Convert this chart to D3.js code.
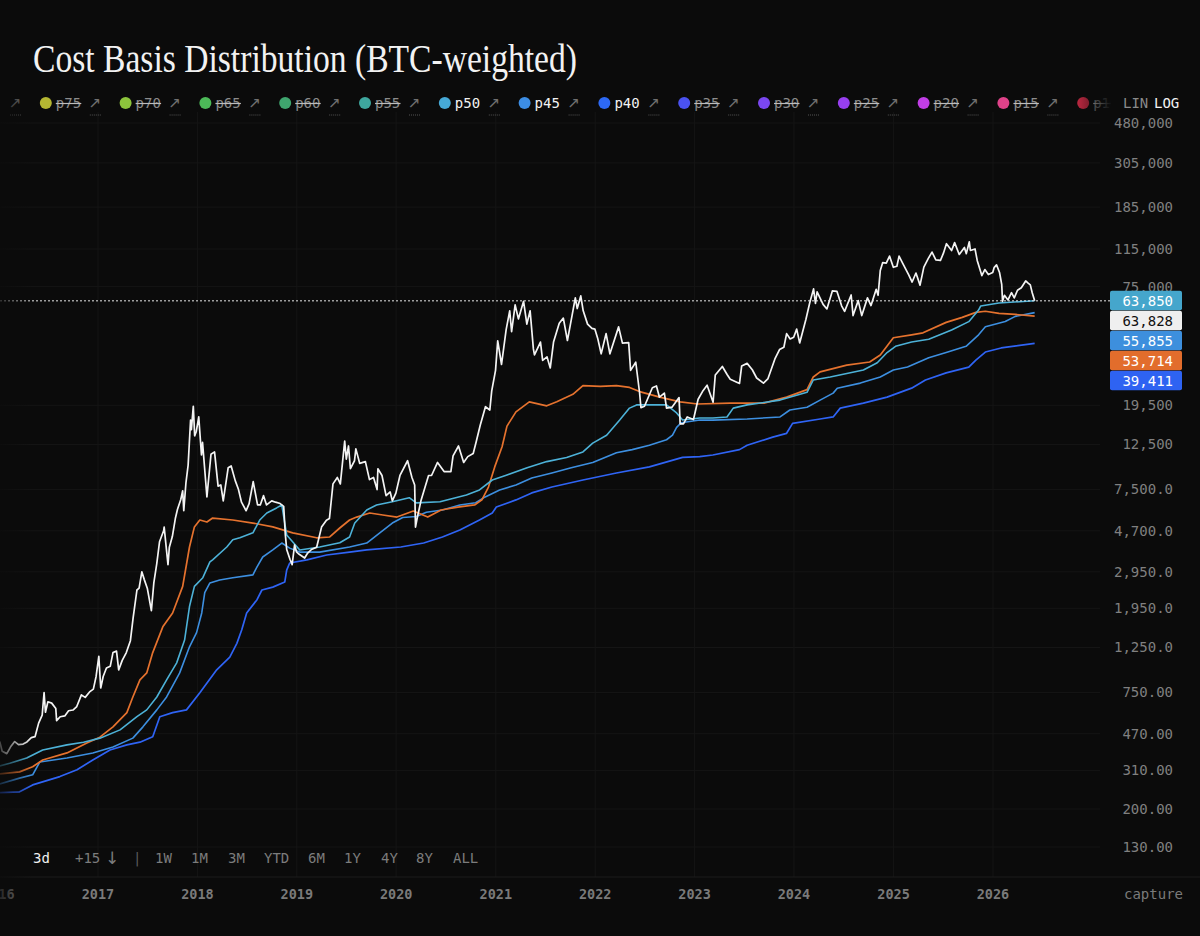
<!DOCTYPE html>
<html><head><meta charset="utf-8">
<script src="https://cdn.jsdelivr.net/npm/d3@7"></script>
<style>
html,body{margin:0;padding:0;background:#0b0b0b;}
svg{display:block;}
</style>
</head><body>
<svg id="chart" width="1200" height="936"></svg>
<script>
// ---------------- DATA ----------------
const chartTitle = "Cost Basis Distribution (BTC-weighted)";

const legendLabels = ["p80","p75","p70","p65","p60","p55","p50","p45","p40","p35","p30","p25","p20","p15","p10"];
const legendColors = ["#c9b02c","#b4b632","#8cc43c","#4cba58","#3fa56e","#3ea79e","#46a9d6","#3c8de4","#2d69f4","#4a52f0","#7a47f0","#983ff0","#c13ee6","#df4289","#b8273f"];
const legendActive = [false,false,false,false,false,false,true,true,true,false,false,false,false,false,false];

const yTickValues = [480000,305000,185000,115000,75000,19500,12500,7500,4700,2950,1950,1250,750,470,310,200,130];
const rangeButtons = ["1W","1M","3M","YTD","6M","1Y","4Y","8Y","ALL"];

const price = [
["2016-01-06",430],["2016-01-15",385],["2016-02-01",375],["2016-02-15",405],["2016-03-01",430],["2016-03-15",415],
["2016-04-01",418],["2016-04-15",428],["2016-05-01",450],["2016-05-15",455],["2016-05-28",530],["2016-06-10",580],
["2016-06-17",750],["2016-06-22",600],["2016-07-01",675],["2016-07-15",665],["2016-07-30",625],["2016-08-02",545],
["2016-08-15",570],["2016-09-01",575],["2016-09-15",610],["2016-10-01",615],["2016-10-15",640],["2016-11-01",730],
["2016-11-15",710],["2016-12-01",755],["2016-12-15",780],["2016-12-25",900],
["2017-01-04",1130],["2017-01-11",790],["2017-01-20",900],["2017-02-01",990],["2017-02-15",1010],["2017-02-25",1180],
["2017-03-10",1200],["2017-03-18",970],["2017-03-31",1080],["2017-04-15",1180],["2017-04-30",1350],["2017-05-10",1750],
["2017-05-24",2400],["2017-06-01",2450],["2017-06-11",2950],["2017-06-20",2700],["2017-07-01",2450],["2017-07-16",1900],
["2017-07-25",2600],["2017-08-05",3250],["2017-08-15",4150],["2017-08-30",4700],["2017-09-01",4900],["2017-09-15",3200],
["2017-09-20",3900],["2017-10-01",4400],["2017-10-12",5400],["2017-10-20",6000],["2017-11-01",6700],["2017-11-08",7400],
["2017-11-12",5900],["2017-11-20",8100],["2017-11-28",9900],["2017-12-07",16500],["2017-12-10",14800],["2017-12-17",19300],
["2017-12-22",13800],["2017-12-28",14500],
["2018-01-06",17100],["2018-01-16",11100],["2018-01-20",12800],["2018-02-05",6900],["2018-02-20",11200],["2018-03-05",11500],
["2018-03-18",7800],["2018-03-28",7900],["2018-04-06",6600],["2018-04-24",9600],["2018-05-05",9800],["2018-05-20",8300],
["2018-06-01",7500],["2018-06-12",6500],["2018-06-29",5900],["2018-07-10",6400],["2018-07-25",8200],["2018-08-10",6300],
["2018-08-20",6300],["2018-09-01",7000],["2018-09-12",6300],["2018-10-01",6600],["2018-10-15",6500],["2018-11-01",6400],
["2018-11-14",6200],["2018-11-20",4500],["2018-11-25",3800],["2018-12-07",3400],["2018-12-15",3200],["2018-12-24",4000],
["2018-12-31",3700],
["2019-01-10",3600],["2019-01-30",3450],["2019-02-10",3650],["2019-02-24",3800],["2019-03-15",3900],["2019-04-02",4900],
["2019-04-20",5300],["2019-05-01",5400],["2019-05-14",8000],["2019-05-30",8600],["2019-06-10",8000],["2019-06-26",13000],
["2019-07-02",10600],["2019-07-10",12300],["2019-07-17",9500],["2019-08-01",10400],["2019-08-06",11900],["2019-08-20",10100],
["2019-09-10",10300],["2019-09-25",8400],["2019-10-10",8600],["2019-10-23",7500],["2019-10-26",9500],["2019-11-10",8800],
["2019-11-25",7000],["2019-12-10",7300],["2019-12-18",6600],["2019-12-31",7200],
["2020-01-15",8800],["2020-02-12",10400],["2020-02-28",8600],["2020-03-09",7900],["2020-03-12",4900],["2020-03-18",5400],
["2020-04-01",6600],["2020-04-29",8800],["2020-05-10",8800],["2020-06-01",10200],["2020-06-25",9200],["2020-07-20",9200],
["2020-07-28",11000],["2020-08-17",12300],["2020-09-05",10200],["2020-09-20",10900],["2020-10-10",11300],["2020-10-21",12900],
["2020-11-05",15600],["2020-11-24",19200],["2020-12-10",18500],["2020-12-17",23000],["2020-12-31",29000],
["2021-01-08",40500],["2021-01-22",31000],["2021-02-08",46000],["2021-02-21",57000],["2021-02-28",45000],["2021-03-13",61000],
["2021-03-25",52000],["2021-04-13",63500],["2021-04-25",49000],["2021-05-07",57000],["2021-05-19",37000],["2021-05-23",34600],
["2021-06-14",40000],["2021-06-22",32500],["2021-07-08",33800],["2021-07-20",29800],["2021-08-01",40000],["2021-08-22",49500],
["2021-09-06",52500],["2021-09-21",40700],["2021-10-01",48000],["2021-10-20",66000],["2021-10-27",58500],["2021-11-09",67500],
["2021-11-18",57000],["2021-12-04",49000],["2021-12-20",46700],["2021-12-31",46300],
["2022-01-10",41800],["2022-01-23",35000],["2022-02-10",44000],["2022-02-24",35000],["2022-03-28",47500],["2022-04-11",39500],
["2022-05-04",39700],["2022-05-11",29000],["2022-05-30",31800],["2022-06-13",22500],["2022-06-18",19000],["2022-07-01",19300],
["2022-07-30",23800],["2022-08-14",24300],["2022-08-25",21400],["2022-09-12",22400],["2022-09-20",18900],["2022-10-10",19100],
["2022-11-05",21300],["2022-11-09",15800],["2022-11-21",15800],["2022-12-05",17100],["2022-12-28",16600],
["2023-01-14",20900],["2023-01-30",22800],["2023-02-16",24500],["2023-03-10",20200],["2023-03-18",27500],["2023-04-13",30300],
["2023-05-01",27600],["2023-05-12",26200],["2023-06-15",25000],["2023-06-23",30500],["2023-07-13",31400],["2023-08-01",29200],
["2023-08-17",26600],["2023-09-11",25100],["2023-09-27",26300],["2023-10-23",33000],["2023-11-09",36700],["2023-11-25",37700],
["2023-12-05",44000],["2023-12-18",41400],["2023-12-31",42200],
["2024-01-11",46300],["2024-01-22",39600],["2024-02-14",51800],["2024-02-28",62500],["2024-03-13",73100],["2024-03-20",62000],
["2024-03-26",70600],["2024-04-17",61300],["2024-05-01",58200],["2024-05-21",71400],["2024-06-07",71000],["2024-06-24",60300],
["2024-07-05",56600],["2024-07-29",68200],["2024-08-05",54000],["2024-08-24",64000],["2024-09-06",54000],["2024-09-27",66000],
["2024-10-10",60500],["2024-10-29",72700],["2024-11-05",68000],["2024-11-13",90000],["2024-11-22",98500],["2024-12-05",98000],
["2024-12-17",106000],["2024-12-31",93400],
["2025-01-13",94500],["2025-01-21",106000],["2025-02-03",98000],["2025-02-25",86000],["2025-03-10",79000],["2025-03-24",87500],
["2025-04-08",76300],["2025-04-22",93500],["2025-05-08",103000],["2025-05-22",111000],["2025-06-05",101500],["2025-06-22",101000],
["2025-07-03",109600],["2025-07-14",122000],["2025-08-02",113000],["2025-08-13",123500],["2025-08-30",108000],["2025-09-18",117000],
["2025-09-25",109000],["2025-10-06",124700],["2025-10-10",113000],["2025-10-27",115000],["2025-11-04",101000],["2025-11-21",85000],
["2025-12-02",91000],["2025-12-15",86000],["2025-12-31",88000],
["2026-01-05",93000],["2026-01-14",96000],["2026-01-25",88000],["2026-02-02",77000],["2026-02-05",63500],["2026-02-12",68000],
["2026-02-25",64500],["2026-03-10",70000],["2026-03-20",66000],["2026-04-01",72000],["2026-04-15",74000],["2026-05-01",80000],
["2026-05-10",78000],["2026-05-18",76500],["2026-05-25",70000],["2026-06-03",63828]
];

const p50 = [
["2016-01-06",326],["2016-02-12",336],["2016-04-14",357],["2016-06-12",391],["2016-09-09",414],["2016-11-09",427],
["2017-01-08",447],["2017-03-23",491],["2017-05-24",570],["2017-06-29",616],["2017-08-05",713],["2017-09-10",866],
["2017-10-17",1050],["2017-11-15",1360],["2017-12-03",1990],["2017-12-21",2500],["2018-01-21",2760],["2018-02-16",3300],
["2018-02-26",3380],["2018-04-19",3910],["2018-05-11",4240],["2018-06-06",4340],["2018-07-24",4590],["2018-08-18",5310],
["2018-09-13",5750],["2018-10-19",6090],["2018-11-07",6300],["2018-11-25",4480],["2019-01-12",3780],["2019-03-26",3910],
["2019-06-08",4100],["2019-07-14",4380],["2019-08-02",5130],["2019-09-15",5950],["2019-10-21",6300],["2019-12-18",6530],
["2020-02-18",6840],["2020-03-15",6450],["2020-06-10",6530],["2020-09-15",7060],["2020-11-02",7470],["2020-12-19",8360],
["2021-02-11",8850],["2021-04-26",9600],["2021-07-07",10300],["2021-09-18",10800],["2021-11-17",11500],["2021-12-23",12700],
["2022-02-12",13900],["2022-04-01",16500],["2022-05-07",18900],["2022-06-02",19600],["2022-09-20",19600],["2022-10-27",17900],
["2022-11-18",16500],["2023-01-20",16900],["2023-03-09",16900],["2023-04-30",17100],["2023-05-23",18900],["2023-07-13",19600],
["2023-11-11",20700],["2024-02-18",22600],["2024-03-12",26000],["2024-05-13",26900],["2024-09-12",29100],["2024-11-02",31600],
["2024-12-08",35500],["2025-01-08",38100],["2025-03-08",40000],["2025-05-10",41300],["2025-08-02",45800],["2025-10-04",50400],
["2025-11-09",57500],["2025-11-17",60200],["2026-01-23",62300],["2026-06-03",63850]
];

const p45 = [
["2016-01-06",266],["2016-03-19",284],["2016-05-06",295],["2016-06-01",341],["2016-09-09",357],["2016-12-13",378],
["2017-02-25",404],["2017-05-09",447],["2017-06-15",508],["2017-08-05",616],["2017-09-10",713],["2017-10-28",937],
["2017-12-03",1260],["2017-12-29",1480],["2018-01-17",1850],["2018-01-28",2330],["2018-02-16",2600],["2018-03-24",2690],
["2018-05-11",2760],["2018-07-24",2850],["2018-08-08",3120],["2018-08-29",3490],["2018-10-05",3780],["2018-11-07",4090],
["2018-12-06",3860],["2019-01-12",3690],["2019-03-26",3690],["2019-07-14",3910],["2019-09-15",4090],["2019-11-02",4590],
["2019-12-18",5130],["2020-01-25",5460],["2020-03-15",5530],["2020-04-21",5800],["2020-06-19",5950],["2020-08-22",6300],
["2020-10-19",6460],["2020-11-23",6900],["2021-01-15",7470],["2021-03-16",7900],["2021-05-13",8550],["2021-07-26",9050],
["2021-10-05",9600],["2021-12-23",10200],["2022-03-20",11400],["2022-05-17",11800],["2022-07-19",12400],["2022-09-20",13200],
["2022-10-12",13900],["2022-10-27",15200],["2022-11-13",16000],["2023-01-20",16500],["2023-03-09",16500],["2023-07-13",16700],
["2023-11-11",17100],["2023-12-17",18500],["2024-02-18",19100],["2024-04-06",20700],["2024-05-24",22400],["2024-06-08",23700],
["2024-09-01",25100],["2024-11-13",26900],["2024-12-31",29100],["2025-02-21",30100],["2025-05-10",33500],["2025-07-13",35500],
["2025-09-24",38100],["2025-11-09",43400],["2025-12-04",47600],["2026-02-15",50500],["2026-03-24",53500],["2026-06-03",55855]
];

const p40 = [
["2016-01-06",241],["2016-03-19",243],["2016-05-06",263],["2016-08-14",289],["2016-10-16",312],["2016-12-13",349],
["2017-02-14",391],["2017-04-17",414],["2017-06-04",427],["2017-07-21",454],["2017-08-16",570],["2017-10-02",597],
["2017-11-22",616],["2018-01-10",748],["2018-03-13",970],["2018-04-30",1120],["2018-05-26",1310],["2018-06-13",1530],
["2018-07-01",1850],["2018-08-08",2150],["2018-08-26",2400],["2018-10-05",2480],["2018-11-18",2630],["2018-11-25",3010],
["2018-12-06",3260],["2019-02-07",3380],["2019-04-21",3570],["2019-07-14",3690],["2019-09-15",3780],["2020-01-18",3910],
["2020-04-11",4090],["2020-06-19",4380],["2020-08-22",4740],["2020-11-02",5310],["2020-12-19",5750],["2021-01-03",6150],
["2021-03-16",6670],["2021-05-13",7220],["2021-07-26",7720],["2021-11-17",8360],["2022-03-20",9050],["2022-07-19",9700],
["2022-11-18",10800],["2023-01-20",10900],["2023-03-09",11100],["2023-06-15",11800],["2023-07-13",12400],["2023-10-15",13600],
["2023-12-05",14200],["2023-12-27",15900],["2024-04-06",16700],["2024-05-24",17100],["2024-06-19",18900],["2024-09-12",20000],
["2024-12-08",21400],["2025-03-08",23700],["2025-04-28",26000],["2025-07-13",28200],["2025-10-04",30100],["2025-10-30",32600],
["2025-12-04",35700],["2026-01-31",37400],["2026-06-03",39411]
];

const average = [
["2016-01-06",298],["2016-03-19",305],["2016-05-06",323],["2016-06-12",349],["2016-09-09",378],["2016-11-21",423],
["2017-01-08",452],["2017-02-25",508],["2017-04-17",597],["2017-05-09",713],["2017-06-04",866],["2017-06-29",937],
["2017-07-21",1180],["2017-08-27",1580],["2017-10-02",1850],["2017-11-08",2500],["2017-12-03",3910],["2017-12-21",4910],
["2018-01-10",5310],["2018-02-05",5190],["2018-02-26",5430],["2018-05-11",5310],["2018-07-24",5130],["2018-10-05",4910],
["2018-12-17",4590],["2019-03-15",4340],["2019-05-02",4380],["2019-06-08",4850],["2019-07-14",5310],["2019-08-09",5490],
["2019-09-26",5750],["2019-11-13",5620],["2020-01-04",5490],["2020-03-04",5880],["2020-04-26",5490],["2020-06-14",5950],
["2020-08-15",6150],["2020-10-15",6300],["2020-11-11",6670],["2020-12-05",7720],["2020-12-28",9700],["2021-01-24",12200],
["2021-02-11",15400],["2021-03-16",18100],["2021-05-04",20300],["2021-07-07",19400],["2021-08-13",20300],["2021-10-11",22100],
["2021-11-17",24400],["2022-01-20",24200],["2022-03-20",24400],["2022-05-07",23900],["2022-06-13",22800],["2022-08-26",21400],
["2022-11-09",20300],["2023-01-12",19800],["2023-05-13",20000],["2023-09-13",20000],["2023-12-05",21400],["2024-02-18",23300],
["2024-03-12",26900],["2024-04-06",28500],["2024-07-13",30800],["2024-10-05",31900],["2024-11-13",34500],["2024-12-31",42000],
["2025-03-08",43400],["2025-04-19",44400],["2025-07-13",50000],["2025-09-10",52900],["2025-10-30",56000],["2025-12-04",56700],
["2026-01-23",55400],["2026-03-24",54700],["2026-06-03",53714]
];

// ---------------- RENDER ----------------
const BG = "#0b0b0b";
const MONO = "'DejaVu Sans Mono','Liberation Mono',monospace";
const svg = d3.select("#chart");
svg.append("rect").attr("width",1200).attr("height",936).attr("fill",BG);

const parse = d3.utcParse("%Y-%m-%d");
const x = d3.scaleUtc().domain([new Date(Date.UTC(2017,0,1)), new Date(Date.UTC(2026,0,1))]).range([98, 993]);
const y = d3.scaleLog().domain([480000, 130]).range([123, 847]);

const plotTop = 112, plotBottom = 877, plotRight = 1100;

// defs
const defs = svg.append("defs");
const gL = defs.append("linearGradient").attr("id","fadeL").attr("x1",0).attr("x2",1).attr("y1",0).attr("y2",0);
gL.append("stop").attr("offset",0).attr("stop-color",BG).attr("stop-opacity",0.75);
gL.append("stop").attr("offset",1).attr("stop-color",BG).attr("stop-opacity",0);
const gR = defs.append("linearGradient").attr("id","fadeR").attr("x1",0).attr("x2",1).attr("y1",0).attr("y2",0);
gR.append("stop").attr("offset",0).attr("stop-color",BG).attr("stop-opacity",0);
gR.append("stop").attr("offset",1).attr("stop-color",BG).attr("stop-opacity",1);
defs.append("clipPath").attr("id","plotClip").append("rect")
  .attr("x",0).attr("y",plotTop).attr("width",plotRight).attr("height",plotBottom-plotTop);
defs.append("clipPath").attr("id","legClip").append("rect")
  .attr("x",0).attr("y",85).attr("width",1111).attr("height",35);

// grid
const grid = svg.append("g");
grid.selectAll("line.h").data(yTickValues).join("line")
  .attr("x1",0).attr("x2",plotRight).attr("y1",d=>y(d)).attr("y2",d=>y(d))
  .attr("stroke","#151515").attr("stroke-width",1);
const years = x.ticks(d3.utcYear.every(1)).concat([new Date(Date.UTC(2016,0,1))]);
grid.selectAll("line.v").data(years).join("line")
  .attr("x1",d=>x(d)).attr("x2",d=>x(d)).attr("y1",plotTop).attr("y2",plotBottom)
  .attr("stroke","#151515").attr("stroke-width",1);
svg.append("line").attr("x1",0).attr("x2",1200).attr("y1",plotBottom).attr("y2",plotBottom)
  .attr("stroke","#1c1c1c");

// lines
const line = d3.line().x(d=>x(parse(d[0]))).y(d=>y(d[1]));
const lines = svg.append("g").attr("clip-path","url(#plotClip)");
const series = [
  {data:p40, color:"#2f64f5", w:1.7},
  {data:p45, color:"#3d8fe0", w:1.6},
  {data:average, color:"#e5722e", w:1.7},
  {data:p50, color:"#4db2d8", w:1.6},
  {data:price, color:"#f4f4f4", w:1.7}
];
lines.selectAll("path").data(series).join("path")
  .attr("d",s=>line(s.data)).attr("fill","none")
  .attr("stroke",s=>s.color).attr("stroke-width",s=>s.w)
  .attr("stroke-linejoin","round");

// price dotted line
const lastPrice = price[price.length-1][1];
svg.append("line").attr("x1",0).attr("x2",1110)
  .attr("y1",y(lastPrice)).attr("y2",y(lastPrice))
  .attr("stroke","#e8e8e8").attr("stroke-width",1).attr("stroke-dasharray","2,2");

// right axis labels
const fmtTick = v => v >= 10000 ? d3.format(",.0f")(v) : (v >= 1000 ? d3.format(",.1f")(v) : d3.format(".2f")(v));
svg.append("g").selectAll("text").data(yTickValues).join("text")
  .attr("x",1173).attr("y",d=>y(d)).attr("dy","0.35em").attr("text-anchor","end")
  .attr("font-family",MONO).attr("font-size",14).attr("fill","#808080")
  .text(fmtTick);

// badges
const badges = [
  {v:p50[p50.length-1][1], bg:"#45a6cc", fg:"#ffffff"},
  {v:lastPrice, bg:"#efefef", fg:"#111111"},
  {v:p45[p45.length-1][1], bg:"#3d8fdd", fg:"#ffffff"},
  {v:average[average.length-1][1], bg:"#e26d2c", fg:"#ffffff"},
  {v:p40[p40.length-1][1], bg:"#2e63f2", fg:"#ffffff"}
];
const BH = 20;
let prevY = -Infinity;
badges.forEach(b=>{ let cy = y(b.v); if (cy < prevY + BH) cy = prevY + BH; b.cy = cy; prevY = cy; });
const bg = svg.append("g");
bg.selectAll("rect").data(badges).join("rect")
  .attr("x",1110).attr("y",d=>d.cy-BH/2).attr("width",72).attr("height",BH-0.6).attr("rx",2)
  .attr("fill",d=>d.bg);
bg.selectAll("text").data(badges).join("text")
  .attr("x",1173).attr("y",d=>d.cy).attr("dy","0.36em").attr("text-anchor","end")
  .attr("font-family",MONO).attr("font-size",14).attr("fill",d=>d.fg)
  .text(d=>d3.format(",.0f")(d.v));

// x axis labels
svg.append("g").selectAll("text").data(years).join("text")
  .attr("x",d=>x(d)).attr("y",894).attr("dy","0.35em").attr("text-anchor","middle")
  .attr("font-family",MONO).attr("font-size",13.5).attr("font-weight","bold").attr("fill","#7a7a7a")
  .text(d=>d3.utcFormat("%Y")(d));
svg.append("text").attr("x",1183).attr("y",894).attr("dy","0.35em").attr("text-anchor","end")
  .attr("font-family",MONO).attr("font-size",14).attr("fill","#7a7a7a").text("capture");

// bottom controls
const ctl = svg.append("g").attr("font-family",MONO).attr("font-size",14);
ctl.append("text").attr("x",33).attr("y",858).attr("dy","0.35em").attr("fill","#f0f0f0").text("3d");
ctl.append("text").attr("x",75).attr("y",858).attr("dy","0.35em").attr("fill","#7c7c7c").text("+15");
ctl.append("text").attr("x",105).attr("y",858).attr("dy","0.35em").attr("fill","#7c7c7c")
  .attr("font-family","'DejaVu Sans',sans-serif").attr("font-size",17).text("↓");
ctl.append("text").attr("x",133).attr("y",858).attr("dy","0.35em").attr("fill","#5a5a5a").text("|");
const btnX = [155,191,228,264,308,344,381,416,453];
ctl.selectAll("text.rb").data(rangeButtons).join("text").attr("class","rb")
  .attr("x",(d,i)=>btnX[i]).attr("y",858).attr("dy","0.35em").attr("fill","#7c7c7c").text(d=>d);

// legend
const leg = svg.append("g").attr("font-family",MONO).attr("font-size",14).attr("clip-path","url(#legClip)");
const legY = 103, legStep = 79.8, legX0 = -34, legRight = 1112;
legendLabels.forEach((lab,i)=>{
  const cx = legX0 + i*legStep;
  const g = leg.append("g");
  if (cx - 6 >= 0) {
    g.append("circle").attr("cx",cx).attr("cy",legY).attr("r",6).attr("fill",legendColors[i]);
    g.append("text").attr("x",cx+10).attr("y",legY).attr("dy","0.35em")
      .attr("fill",legendActive[i] ? "#f2f2f2" : "#8c8c8c").text(lab);
    if (!legendActive[i]) {
      g.append("line").attr("x1",cx+10).attr("x2",cx+35.5).attr("y1",legY+0.5).attr("y2",legY+0.5)
        .attr("stroke","#bdbdbd").attr("stroke-width",1.2);
    }
  }
  if (cx + 56 <= legRight) {
    g.append("text").attr("x",cx+43).attr("y",legY).attr("dy","0.36em")
      .attr("font-family","'DejaVu Sans',sans-serif").attr("font-size",15)
      .attr("fill","#707070").text("↗");
    g.append("line").attr("x1",cx+44).attr("x2",cx+55).attr("y1",legY+12).attr("y2",legY+12)
      .attr("stroke","#555").attr("stroke-width",1).attr("stroke-dasharray","1,1");
  }
});
// right fade for legend + LIN/LOG
svg.append("rect").attr("x",1078).attr("y",88).attr("width",34).attr("height",30).attr("fill","url(#fadeR)");
svg.append("text").attr("x",1123).attr("y",legY).attr("dy","0.35em").attr("font-family",MONO).attr("font-size",14)
  .attr("fill","#8a8a8a").text("LIN");
svg.append("text").attr("x",1154).attr("y",legY).attr("dy","0.35em").attr("font-family",MONO).attr("font-size",14)
  .attr("fill","#f2f2f2").text("LOG");

// left fade
svg.append("rect").attr("x",0).attr("y",88).attr("width",32).attr("height",822).attr("fill","url(#fadeL)");

// title
svg.append("text").attr("x",33).attr("y",72)
  .attr("font-family","'Liberation Serif','DejaVu Serif',serif").attr("font-size",40)
  .attr("fill","#f2f2f2").attr("textLength",544).attr("lengthAdjust","spacingAndGlyphs")
  .text(chartTitle);
</script>
</body></html>
